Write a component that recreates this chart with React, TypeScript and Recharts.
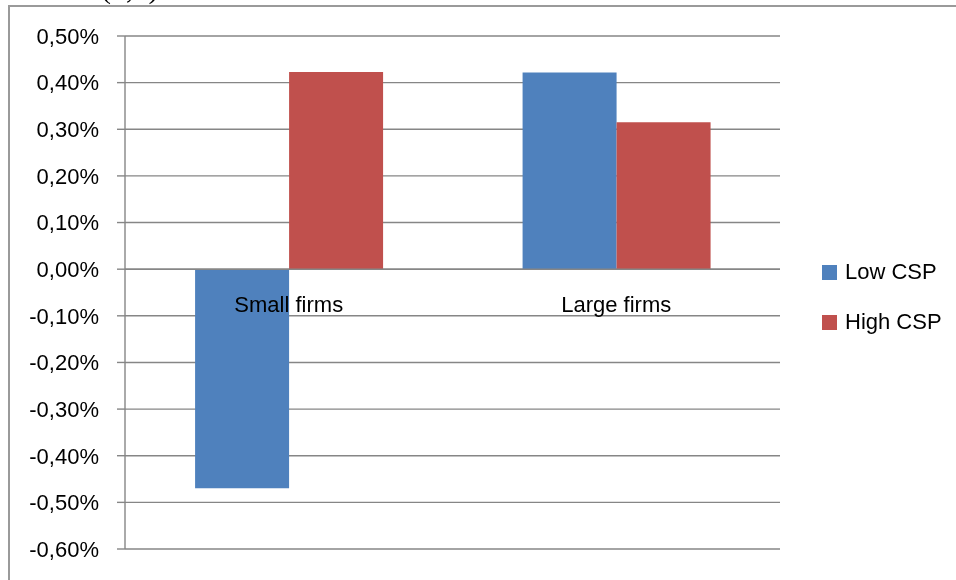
import React from 'react';
import { BarChart, Bar, XAxis, YAxis, CartesianGrid, ReferenceLine, ReferenceDot } from 'recharts';

const categories = ['Small firms', 'Large firms'];
const lowCSP = [-0.47, 0.422];
const highCSP = [0.423, 0.315];
const seriesNames = ['Low CSP', 'High CSP'];
const seriesColors = ['#4F81BD', '#C0504D'];
const yTicks = [-0.6, -0.5, -0.4, -0.3, -0.2, -0.1, 0, 0.1, 0.2, 0.3, 0.4, 0.5];

const data = categories.map((c, i) => ({ category: c, low: lowCSP[i], high: highCSP[i] }));

const FONT = '"Liberation Sans", Arial, sans-serif';
const GRID = '#868686';

const fmt = (v: number) => v.toFixed(2).replace('.', ',') + '%';

export default function App() {
  return (
    <div>
      <div
        style={{
          position: 'fixed',
          left: 101,
          top: -27,
          fontFamily: '"Liberation Serif", serif',
          fontSize: 30,
          lineHeight: '30px',
          color: '#000',
        }}
      >
        (3,5)
      </div>
      <div
        style={{
          position: 'fixed',
          left: 8,
          top: 5,
          width: 960,
          height: 600,
          borderLeft: '2px solid #9a9a9a',
          borderTop: '2px solid #9a9a9a',
          boxSizing: 'border-box',
          background: '#fff',
        }}
      >
        <div style={{ position: 'absolute', left: -2, top: -2 }}>
          <BarChart
            width={948}
            height={575}
            data={data}
            margin={{ top: 31, right: 176, bottom: 31, left: 0 }}
            barCategoryGap="21.4%"
            barGap={0}
          >
            <CartesianGrid horizontal vertical={false} stroke={GRID} strokeWidth={1.4} />
            <XAxis dataKey="category" hide />
            <YAxis
              domain={[-0.6, 0.5]}
              ticks={yTicks}
              interval={0}
              width={117}
              tickFormatter={fmt}
              axisLine={{ stroke: GRID, strokeWidth: 1.4 }}
              tickLine={{ stroke: GRID, strokeWidth: 1.4 }}
              tickSize={8}
              tickMargin={18}
              tick={{ fill: '#000', fontSize: 22, fontFamily: FONT }}
            />
            <Bar dataKey="low" name={seriesNames[0]} fill={seriesColors[0]} isAnimationActive={false} />
            <Bar dataKey="high" name={seriesNames[1]} fill={seriesColors[1]} isAnimationActive={false} />
            <ReferenceLine y={0} stroke={GRID} strokeWidth={1.4} />
            {categories.map((c) => (
              <ReferenceDot
                key={c}
                x={c}
                y={0}
                r={0}
                fill="none"
                stroke="none"
                ifOverflow="visible"
                label={{ value: c, position: 'bottom', offset: 27, fill: '#000', fontSize: 22, fontFamily: FONT }}
              />
            ))}
          </BarChart>
        </div>
        {seriesNames.map((n, i) => (
          <div
            key={n}
            style={{
              position: 'absolute',
              left: 812,
              top: 250 + i * 50,
              height: 30,
              display: 'flex',
              alignItems: 'center',
              fontFamily: FONT,
              fontSize: 22,
              color: '#000',
              whiteSpace: 'nowrap',
            }}
          >
            <span style={{ display: 'inline-block', width: 15, height: 15, background: seriesColors[i], marginRight: 8 }} />
            {n}
          </div>
        ))}
      </div>
    </div>
  );
}
